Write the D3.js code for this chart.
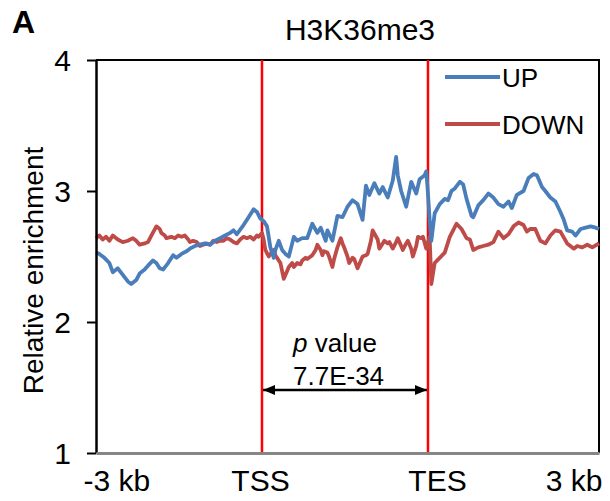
<!DOCTYPE html>
<html>
<head>
<meta charset="utf-8">
<script src="https://cdn.jsdelivr.net/npm/d3@7"></script>
<style>
  html, body { margin: 0; padding: 0; background: #fff; }
  svg { display: block; font-family: "Liberation Sans", Arial, sans-serif; }
</style>
</head>
<body>
<svg id="chart" width="610" height="501"></svg>
<script>
// Metagene profile: bins 0..300 span -3 kb .. TSS .. (scaled gene body) .. TES .. +3 kb
const binRange = [0, 300];
const tssBin = 99;
const tesBin = 198;

const xTickBins = [0, tssBin, tesBin, 300];
const xTickLabels = ["-3 kb", "TSS", "TES", "3 kb"];
const yTicks = [1, 2, 3, 4];

const seriesNames = ["UP", "DOWN"];

const upBins = [0, 2, 5, 8, 10, 13, 16, 19, 21, 24, 26, 29, 31, 34, 36, 38, 40, 43, 46, 48, 51, 54,
  56, 59, 62, 65, 68, 71, 74, 77, 80, 82, 84, 88, 91, 94, 96, 98, 100, 102, 104, 106, 107, 109, 111,
  113, 115, 118, 120, 123, 126, 129, 132, 134, 137, 138, 141, 144, 147, 150, 153, 156, 159, 161, 163,
  166, 169, 171, 174, 177, 179, 180, 182, 185, 188, 191, 193, 196, 197, 198, 199, 200, 202, 205, 208,
  210, 212, 214, 217, 219, 221, 224, 225, 228, 231, 234, 237, 240, 243, 246, 248, 251, 255, 258, 261,
  263, 266, 268, 271, 274, 277, 279, 281, 284, 286, 289, 292, 295, 298, 300];
const upValues = [2.53, 2.52, 2.49, 2.45, 2.38, 2.41, 2.36, 2.31, 2.29, 2.32, 2.37, 2.40, 2.43, 2.47,
  2.45, 2.41, 2.40, 2.45, 2.51, 2.49, 2.52, 2.54, 2.56, 2.58, 2.59, 2.60, 2.59, 2.62, 2.64, 2.66,
  2.68, 2.70, 2.67, 2.74, 2.80, 2.86, 2.84, 2.79, 2.77, 2.73, 2.57, 2.49, 2.55, 2.62, 2.55, 2.52,
  2.50, 2.65, 2.62, 2.64, 2.64, 2.75, 2.68, 2.72, 2.62, 2.70, 2.62, 2.81, 2.80, 2.88, 2.93, 2.90,
  2.78, 3.04, 2.97, 3.06, 2.98, 3.03, 2.95, 3.08, 3.26, 3.12, 3.00, 2.88, 3.07, 2.98, 3.09, 3.12,
  3.15, 2.98, 2.78, 2.62, 2.83, 2.90, 2.94, 2.93, 3.00, 3.02, 3.07, 3.05, 2.94, 2.81, 2.80, 2.89,
  2.93, 2.98, 2.95, 2.90, 2.88, 2.92, 2.87, 2.97, 3.00, 3.10, 3.13, 3.12, 3.03, 3.00, 2.95, 2.92,
  2.84, 2.78, 2.70, 2.69, 2.66, 2.71, 2.72, 2.73, 2.72, 2.71];

const downBins = [0, 2, 4, 6, 8, 10, 13, 16, 19, 22, 24, 26, 29, 31, 33, 36, 38, 39, 41, 42, 45, 47,
  49, 51, 53, 55, 56, 58, 60, 62, 64, 66, 68, 70, 72, 74, 76, 78, 80, 82, 84, 86, 88, 90, 92, 94, 96,
  97, 99, 100, 101, 103, 104, 106, 107, 109, 110, 112, 114, 115, 117, 118, 120, 122, 123, 125, 126,
  128, 129, 131, 132, 134, 135, 136, 138, 139, 141, 142, 144, 146, 147, 148, 150, 151, 153, 154, 156,
  158, 159, 161, 162, 164, 165, 168, 169, 171, 172, 174, 175, 177, 179, 180, 182, 183, 185, 186, 188,
  189, 191, 192, 194, 195, 197, 199, 200, 202, 205, 208, 211, 213, 215, 218, 221, 223, 225, 228, 231,
  234, 237, 240, 243, 246, 249, 252, 255, 257, 259, 262, 265, 268, 271, 274, 277, 281, 285, 287, 290,
  293, 296, 300];
const downValues = [2.64, 2.66, 2.63, 2.65, 2.62, 2.66, 2.63, 2.61, 2.62, 2.64, 2.62, 2.59, 2.60,
  2.61, 2.66, 2.73, 2.71, 2.68, 2.66, 2.64, 2.65, 2.64, 2.66, 2.65, 2.66, 2.63, 2.61, 2.62, 2.61,
  2.58, 2.59, 2.60, 2.59, 2.62, 2.61, 2.62, 2.62, 2.64, 2.63, 2.61, 2.60, 2.63, 2.65, 2.64, 2.65,
  2.63, 2.66, 2.65, 2.68, 2.63, 2.55, 2.50, 2.52, 2.55, 2.51, 2.47, 2.45, 2.33, 2.39, 2.42, 2.45,
  2.42, 2.45, 2.44, 2.47, 2.49, 2.48, 2.50, 2.51, 2.55, 2.59, 2.55, 2.51, 2.54, 2.53, 2.50, 2.42,
  2.48, 2.57, 2.64, 2.60, 2.57, 2.50, 2.45, 2.49, 2.48, 2.41, 2.47, 2.50, 2.51, 2.52, 2.62, 2.70,
  2.63, 2.56, 2.60, 2.62, 2.60, 2.61, 2.56, 2.61, 2.64, 2.58, 2.55, 2.60, 2.62, 2.56, 2.50, 2.58,
  2.65, 2.64, 2.65, 2.56, 2.65, 2.29, 2.45, 2.49, 2.53, 2.65, 2.70, 2.75, 2.71, 2.64, 2.63, 2.55,
  2.57, 2.58, 2.59, 2.61, 2.69, 2.64, 2.67, 2.73, 2.76, 2.74, 2.69, 2.71, 2.71, 2.62, 2.60, 2.66,
  2.70, 2.69, 2.60, 2.56, 2.58, 2.57, 2.59, 2.57, 2.60];

const pValueText = "7.7E-34";

// ---- layout ----
const margin = { left: 96, right: 11, top: 60, bottom: 48 };
const W = 610, H = 501;
const svg = d3.select("#chart");

const x = d3.scaleLinear().domain(binRange).range([margin.left, W - margin.right]);
const y = d3.scaleLinear().domain([1, 4]).range([H - margin.bottom, margin.top]);

const colors = { UP: "#4a7ebb", DOWN: "#be4b48" };

// plot frame: top and right borders
svg.append("path")
  .attr("d", `M${x(0)},${y(4)}H${x(300)}V${y(1)}`)
  .attr("fill", "none").attr("stroke", "#000").attr("stroke-width", 2);

// TSS / TES markers
svg.selectAll("line.mark").data([tssBin, tesBin]).join("line")
  .attr("class", "mark")
  .attr("x1", d => x(d)).attr("x2", d => x(d))
  .attr("y1", y(4)).attr("y2", y(1))
  .attr("stroke", "#ff0000").attr("stroke-width", 2.5);

// profiles
const line = d3.line().x(d => x(d[0])).y(d => y(d[1]));
const series = [
  { name: "DOWN", pts: d3.zip(downBins, downValues) },
  { name: "UP", pts: d3.zip(upBins, upValues) }
];
svg.selectAll("path.profile").data(series).join("path")
  .attr("class", "profile")
  .attr("d", d => line(d.pts))
  .attr("fill", "none")
  .attr("stroke", d => colors[d.name])
  .attr("stroke-width", 3.8)
  .attr("stroke-linejoin", "round");

// y axis
const yAxis = svg.append("g")
  .attr("transform", `translate(${x(0)},0)`)
  .call(d3.axisLeft(y).tickValues(yTicks).tickFormat(d3.format("d")).tickSize(9).tickSizeOuter(0).tickPadding(16));
yAxis.select(".domain").attr("stroke", "#000").attr("stroke-width", 2.5);
yAxis.selectAll(".tick line").attr("stroke", "#000").attr("stroke-width", 2);
yAxis.selectAll(".tick text")
  .attr("font-size", 30).attr("fill", "#000").attr("font-family", null)
  .attr("dy", "0.36em");

// x axis
const xAxis = svg.append("g")
  .attr("transform", `translate(0,${y(1)})`)
  .call(d3.axisBottom(x).tickValues(xTickBins).tickFormat((d, i) => xTickLabels[i]).tickSize(0).tickSizeOuter(0));
xAxis.select(".domain").attr("stroke", "#868686").attr("stroke-width", 3);
const xLabelStyle = [
  { anchor: "start", dx: -13 },
  { anchor: "middle", dx: -2 },
  { anchor: "middle", dx: 9 },
  { anchor: "end", dx: 3 }
];
xAxis.selectAll(".tick text")
  .attr("font-size", 30).attr("fill", "#000").attr("font-family", null)
  .attr("y", 38).attr("dy", null)
  .attr("text-anchor", (d, i) => xLabelStyle[i].anchor)
  .attr("dx", (d, i) => xLabelStyle[i].dx);

// y axis title
svg.append("text")
  .attr("transform", `translate(43,${(y(1) + y(4)) / 2 + 14}) rotate(-90)`)
  .attr("text-anchor", "middle")
  .attr("font-size", 28)
  .text("Relative enrichment");

// chart title and panel letter
svg.append("text").attr("x", 360).attr("y", 40).attr("text-anchor", "middle")
  .attr("font-size", 30).text("H3K36me3");
svg.append("text").attr("x", 12).attr("y", 33).attr("font-size", 32).attr("font-weight", "bold").text("A");

// legend
const legend = svg.append("g").attr("transform", "translate(445,77)");
seriesNames.forEach((name, i) => {
  const g = legend.append("g").attr("transform", `translate(0,${i * 47})`);
  g.append("line").attr("x1", 0).attr("x2", 55).attr("y1", 0).attr("y2", 0)
    .attr("stroke", colors[name]).attr("stroke-width", 4);
  g.append("text").attr("x", 57).attr("y", 10).attr("font-size", 26).text(name);
});

// p value annotation with double-headed arrow between TSS and TES
const arrowY = 390;
const defs = svg.append("defs");
defs.append("marker").attr("id", "ahead")
  .attr("viewBox", "0 0 12 10").attr("refX", 12).attr("refY", 5)
  .attr("markerWidth", 12).attr("markerHeight", 10).attr("markerUnits", "userSpaceOnUse")
  .attr("orient", "auto-start-reverse")
  .append("path").attr("d", "M0,0L12,5L0,10Z").attr("fill", "#000");
svg.append("line")
  .attr("x1", x(tssBin) + 1).attr("x2", x(tesBin) - 1)
  .attr("y1", arrowY).attr("y2", arrowY)
  .attr("stroke", "#000").attr("stroke-width", 2.5)
  .attr("marker-start", "url(#ahead)").attr("marker-end", "url(#ahead)");
const pLabel = svg.append("text").attr("x", 293).attr("y", 352).attr("font-size", 26);
pLabel.append("tspan").attr("font-style", "italic").text("p");
pLabel.append("tspan").text(" value");
svg.append("text").attr("x", 293).attr("y", 385).attr("font-size", 26).text(pValueText);
</script>
</body>
</html>
